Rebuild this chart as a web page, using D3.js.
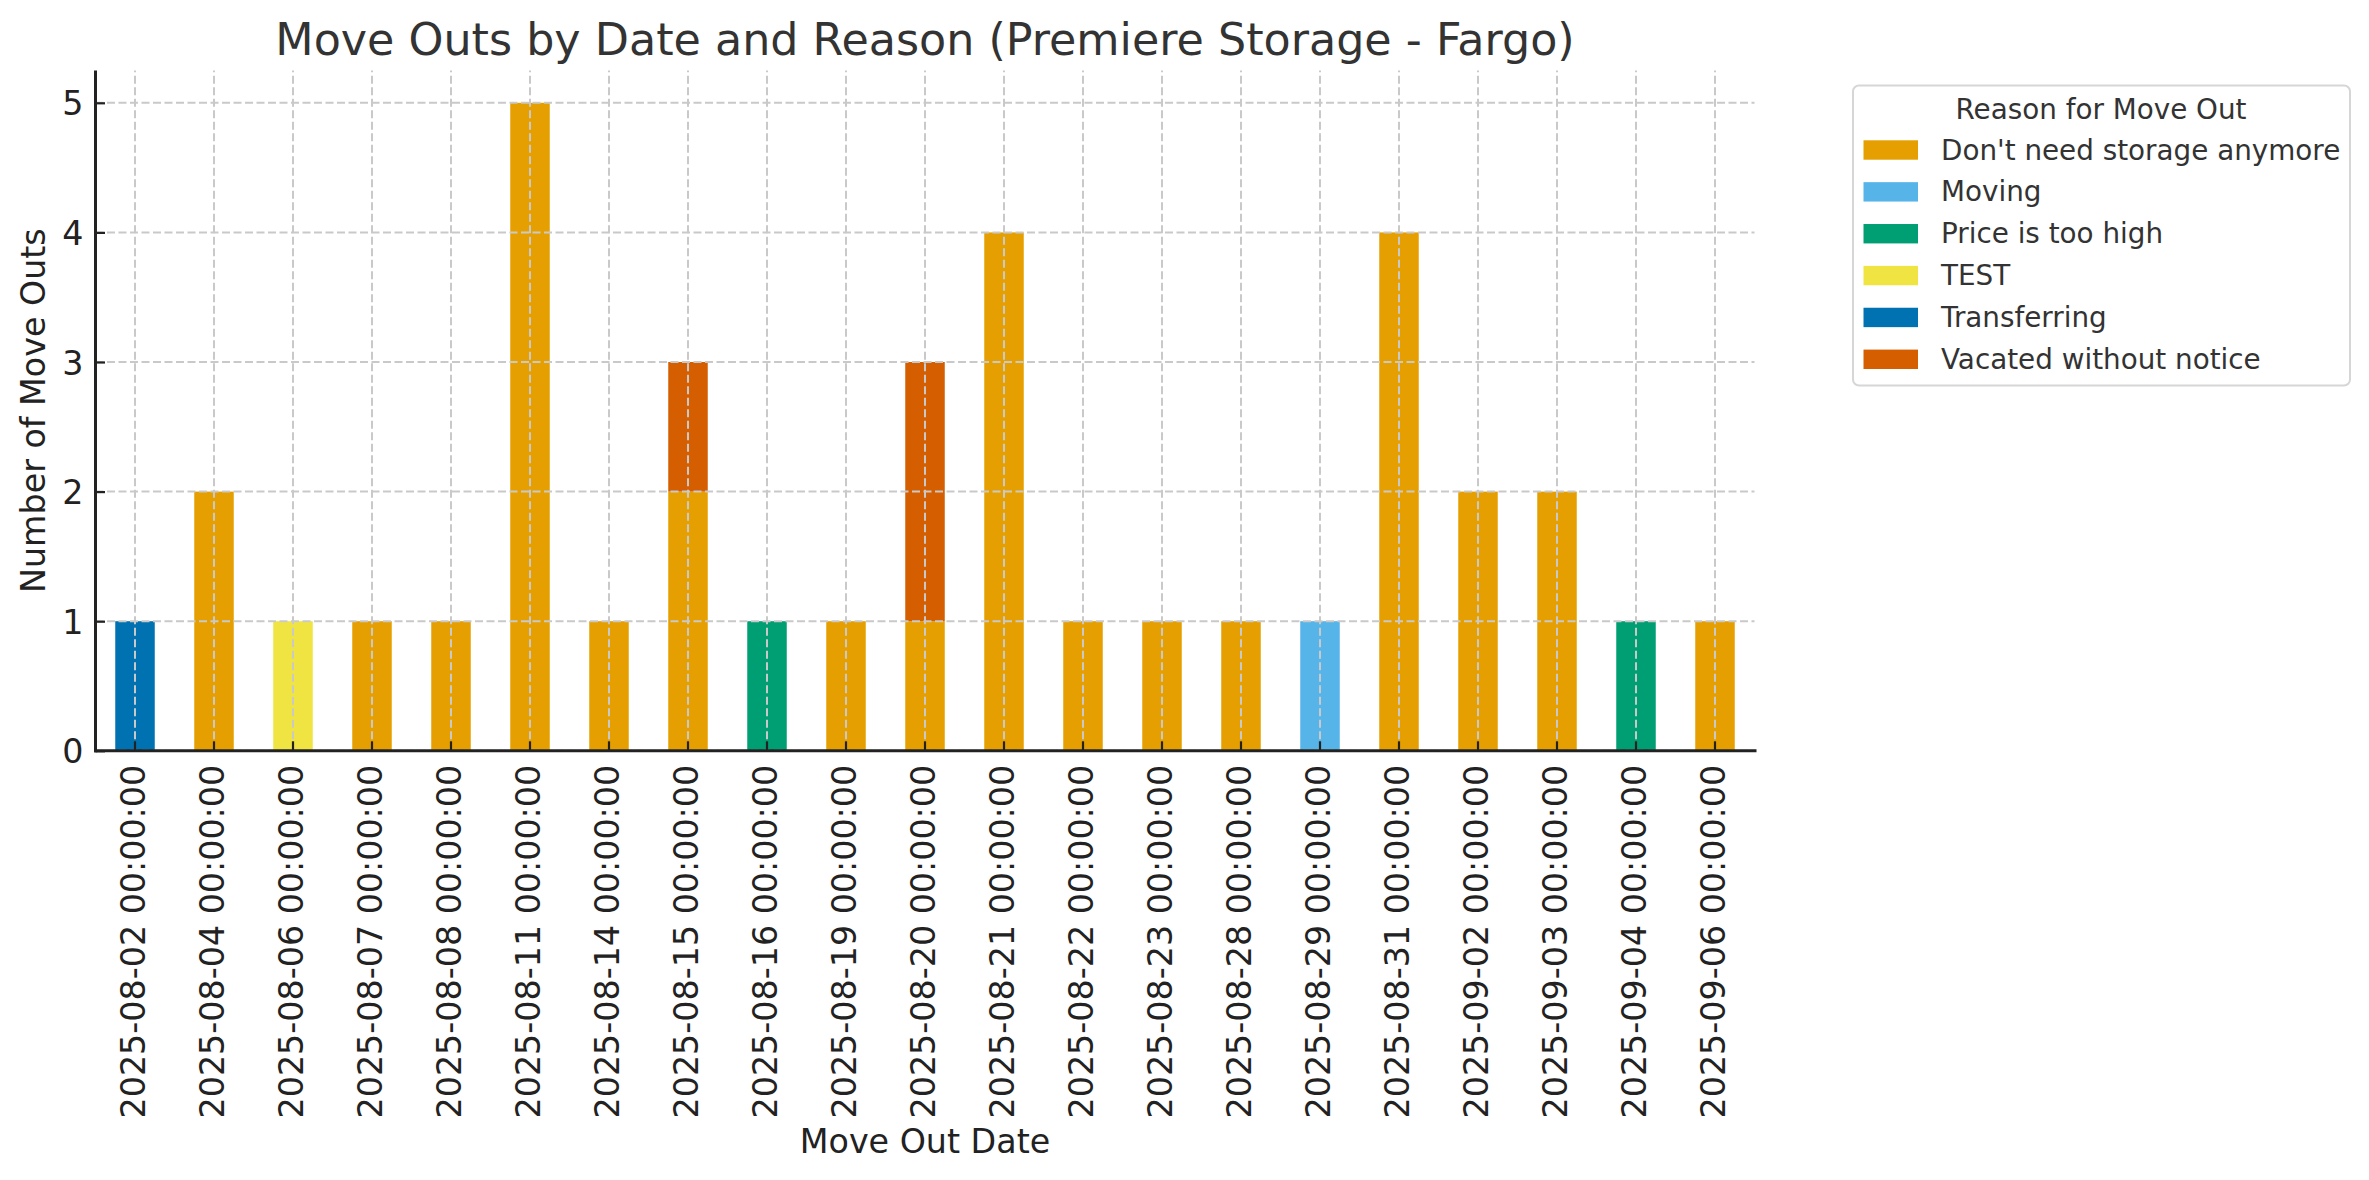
<!DOCTYPE html>
<html>
<head>
<meta charset="utf-8">
<script src="https://cdn.jsdelivr.net/npm/d3@7"></script>
<style>
  html, body { margin: 0; padding: 0; background: #ffffff; }
  svg { display: block; }
  text { font-family: "DejaVu Sans", sans-serif; }
</style>
</head>
<body>
<svg id="chart" width="2369" height="1180"></svg>
<script>
// ---- Data ----
const dates = [
  "2025-08-02 00:00:00", "2025-08-04 00:00:00", "2025-08-06 00:00:00", "2025-08-07 00:00:00",
  "2025-08-08 00:00:00", "2025-08-11 00:00:00", "2025-08-14 00:00:00", "2025-08-15 00:00:00",
  "2025-08-16 00:00:00", "2025-08-19 00:00:00", "2025-08-20 00:00:00", "2025-08-21 00:00:00",
  "2025-08-22 00:00:00", "2025-08-23 00:00:00", "2025-08-28 00:00:00", "2025-08-29 00:00:00",
  "2025-08-31 00:00:00", "2025-09-02 00:00:00", "2025-09-03 00:00:00", "2025-09-04 00:00:00",
  "2025-09-06 00:00:00"
];
const reasons = ["Don't need storage anymore", "Moving", "Price is too high", "TEST", "Transferring", "Vacated without notice"];
const reasonColors = ["#E69F00", "#56B4E9", "#009E73", "#F0E442", "#0072B2", "#D55E00"];

const dontNeed     = [0, 2, 0, 1, 1, 5, 1, 2, 0, 1, 1, 4, 1, 1, 1, 0, 4, 2, 2, 0, 1];
const moving       = [0, 0, 0, 0, 0, 0, 0, 0, 0, 0, 0, 0, 0, 0, 0, 1, 0, 0, 0, 0, 0];
const priceTooHigh = [0, 0, 0, 0, 0, 0, 0, 0, 1, 0, 0, 0, 0, 0, 0, 0, 0, 0, 0, 1, 0];
const test         = [0, 0, 1, 0, 0, 0, 0, 0, 0, 0, 0, 0, 0, 0, 0, 0, 0, 0, 0, 0, 0];
const transferring = [1, 0, 0, 0, 0, 0, 0, 0, 0, 0, 0, 0, 0, 0, 0, 0, 0, 0, 0, 0, 0];
const vacated      = [0, 0, 0, 0, 0, 0, 0, 1, 0, 0, 2, 0, 0, 0, 0, 0, 0, 0, 0, 0, 0];

const yTicks = [0, 1, 2, 3, 4, 5];

const titleText = "Move Outs by Date and Reason (Premiere Storage - Fargo)";
const xLabelText = "Move Out Date";
const yLabelText = "Number of Move Outs";
const legendTitleText = "Reason for Move Out";

// ---- Build table ----
const seriesValues = [dontNeed, moving, priceTooHigh, test, transferring, vacated];
const table = dates.map((d, i) => {
  const row = { date: d };
  reasons.forEach((r, k) => { row[r] = seriesValues[k][i]; });
  return row;
});

// ---- Layout ----
const svg = d3.select("#chart");
const plot = { left: 95.5, right: 1754.5, top: 70.4, bottom: 750.8 };

const x = d3.scaleBand()
  .domain(dates)
  .range([plot.left, plot.right])
  .paddingInner(0.5)
  .paddingOuter(0.25);

const maxTotal = d3.max(table, r => d3.sum(reasons, k => r[k]));
const y = d3.scaleLinear()
  .domain([0, maxTotal * 1.05])
  .range([plot.bottom, plot.top]);

const color = d3.scaleOrdinal().domain(reasons).range(reasonColors);

const stacked = d3.stack().keys(reasons)(table);

// ---- Bars ----
const barG = svg.append("g");
stacked.forEach(layer => {
  barG.append("g")
    .attr("fill", color(layer.key))
    .selectAll("rect")
    .data(layer.filter(d => d[1] - d[0] > 0))
    .join("rect")
    .attr("x", d => x(d.data.date))
    .attr("width", x.bandwidth())
    .attr("y", d => y(d[1]))
    .attr("height", d => y(d[0]) - y(d[1]));
});

// ---- Grid (drawn over bars) ----
const gridG = svg.append("g")
  .attr("stroke", "#c9c9c9")
  .attr("stroke-width", 2)
  .attr("stroke-dasharray", "8,3.5")
  .attr("fill", "none");

gridG.selectAll("line.h")
  .data(yTicks)
  .join("line")
  .attr("class", "h")
  .attr("x1", plot.left).attr("x2", plot.right)
  .attr("y1", d => y(d)).attr("y2", d => y(d));

gridG.selectAll("line.v")
  .data(dates)
  .join("line")
  .attr("class", "v")
  .attr("x1", d => x(d) + x.bandwidth() / 2)
  .attr("x2", d => x(d) + x.bandwidth() / 2)
  .attr("y1", plot.bottom).attr("y2", plot.top);

// ---- Axes ----
const axisColor = "#222222";
const tickLen = 9.5;

// x axis
const xAxis = d3.axisBottom(x).tickSizeInner(-tickLen).tickSizeOuter(0).tickPadding(0);
const xg = svg.append("g").attr("transform", `translate(0,${plot.bottom})`).call(xAxis);
xg.select(".domain").remove();
xg.selectAll(".tick line").attr("stroke", axisColor).attr("stroke-width", 2.2);
xg.selectAll(".tick text")
  .attr("fill", "#222222")
  .attr("font-size", "33.3px")
  .attr("text-anchor", "end")
  .attr("dy", null)
  .attr("y", null)
  .attr("transform", "translate(10,14) rotate(-90)");

// y axis
const yAxis = d3.axisLeft(y).tickValues(yTicks).tickFormat(d3.format("d"))
  .tickSizeInner(-tickLen).tickSizeOuter(0).tickPadding(0);
const yg = svg.append("g").attr("transform", `translate(${plot.left},0)`).call(yAxis);
yg.select(".domain").remove();
yg.selectAll(".tick line").attr("stroke", axisColor).attr("stroke-width", 2.2);
yg.selectAll(".tick text")
  .attr("fill", "#222222")
  .attr("font-size", "33.3px")
  .attr("text-anchor", "end")
  .attr("x", -12)
  .attr("dy", "12px");

// spines (left and bottom only)
svg.append("line")
  .attr("x1", plot.left).attr("x2", plot.left)
  .attr("y1", plot.top).attr("y2", plot.bottom + 1.5)
  .attr("stroke", axisColor).attr("stroke-width", 3);
svg.append("line")
  .attr("x1", plot.left - 1.5).attr("x2", plot.right + 2)
  .attr("y1", plot.bottom).attr("y2", plot.bottom)
  .attr("stroke", axisColor).attr("stroke-width", 3);

// ---- Titles ----
const midX = (plot.left + plot.right) / 2;
svg.append("text")
  .attr("x", midX).attr("y", 54.5)
  .attr("text-anchor", "middle")
  .attr("font-size", "44.4px")
  .attr("fill", "#333333")
  .text(titleText);

svg.append("text")
  .attr("x", midX).attr("y", 1153)
  .attr("text-anchor", "middle")
  .attr("font-size", "33.3px")
  .attr("fill", "#222222")
  .text(xLabelText);

svg.append("text")
  .attr("transform", `translate(45,${(plot.top + plot.bottom) / 2}) rotate(-90)`)
  .attr("text-anchor", "middle")
  .attr("font-size", "33.3px")
  .attr("fill", "#222222")
  .text(yLabelText);

// ---- Legend ----
const lg = svg.append("g");
lg.append("rect")
  .attr("x", 1853).attr("y", 85.5)
  .attr("width", 497).attr("height", 300)
  .attr("rx", 6).attr("ry", 6)
  .attr("fill", "#ffffff")
  .attr("stroke", "#d6d6d6")
  .attr("stroke-width", 2);

lg.append("text")
  .attr("x", 2101).attr("y", 118.5)
  .attr("text-anchor", "middle")
  .attr("font-size", "27.8px")
  .attr("fill", "#333333")
  .text(legendTitleText);

const rowY = d3.scaleLinear().domain([0, reasons.length - 1]).range([150, 359.3]);
const items = lg.selectAll("g.item")
  .data(reasons)
  .join("g")
  .attr("class", "item")
  .attr("transform", (d, i) => `translate(0,${rowY(i)})`);
items.append("rect")
  .attr("x", 1863.5).attr("y", -9.7)
  .attr("width", 54.5).attr("height", 19.4)
  .attr("fill", d => color(d));
items.append("text")
  .attr("x", 1941).attr("y", 9.6)
  .attr("font-size", "27.8px")
  .attr("fill", "#333333")
  .text(d => d);
</script>
</body>
</html>
